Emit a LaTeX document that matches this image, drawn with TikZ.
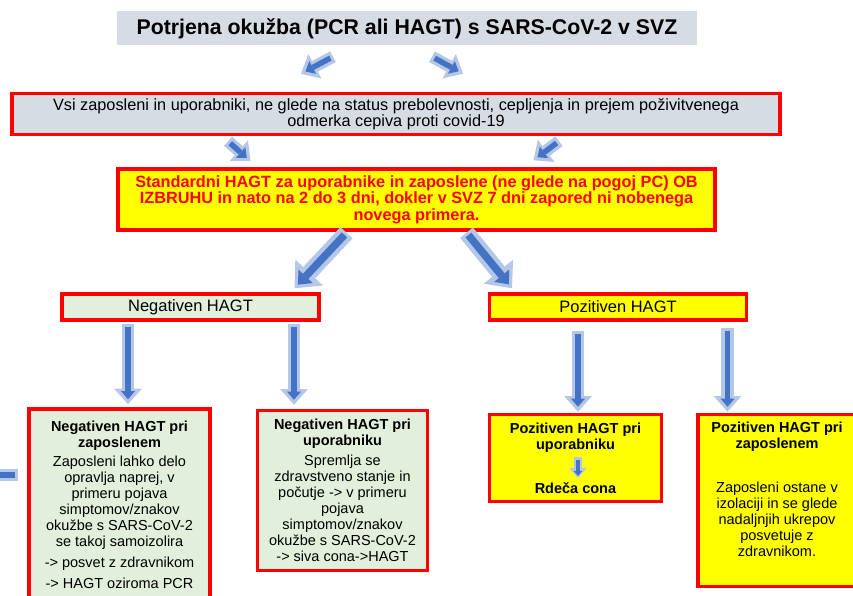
\documentclass[tikz,border=0pt]{standalone}
\usepackage{fontspec}
\setmainfont{Liberation Sans}
\usetikzlibrary{positioning,calc,arrows.meta}
\definecolor{boxgray}{HTML}{D6DCE4}
\definecolor{boxgreen}{HTML}{E2EFDA}
\definecolor{boxred}{HTML}{FF0000}
\definecolor{boxyellow}{HTML}{FFFF00}
\definecolor{arrowlight}{HTML}{B4C7E7}
\definecolor{arrowdark}{HTML}{4472C4}

\begin{document}
\begin{tikzpicture}[x=1pt, y=-1pt,
  box/.style={draw=boxred, line width=3.5pt, align=center, inner sep=2pt, font=\fontsize{14.5}{16}\selectfont},
  graybox/.style={box, fill=boxgray},
  greenbox/.style={box, fill=boxgreen},
  yellowbox/.style={box, fill=boxyellow},
  flowarrow/.style={draw=arrowdark, line width=#1, shorten <=3pt, shorten >=5pt,
    -{Triangle[length=0pt 1.5, width=0pt 2.6, line width=0pt]},
    preaction={draw=arrowlight, line width=2.2*#1, shorten <=0pt, shorten >=0pt,
      -{Triangle[length=0pt 1.3, width=0pt 2.3, line width=0pt]}}}]
\useasboundingbox (0,0) rectangle (853,596);
\clip (0,0) rectangle (853,596);

\node[fill=boxgray, minimum width=580pt, minimum height=34pt, font=\bfseries\fontsize{21.3}{24}\selectfont] (title) at (407,28.5) {Potrjena okužba (PCR ali HAGT) s SARS-CoV-2 v SVZ};
\node[graybox, minimum width=768pt, minimum height=41pt, font=\fontsize{16.3}{16}\selectfont] (allbox) at (396,114) {Vsi zaposleni in uporabniki, ne glede na status prebolevnosti, cepljenja in prejem poživitvenega\\odmerka cepiva proti covid-19};
\node[yellowbox, text=boxred, minimum width=597pt, minimum height=61pt, font=\bfseries\fontsize{16.3}{16.5}\selectfont] (hagt) at (416.5,199.5) {Standardni HAGT za uporabnike in zaposlene (ne glede na pogoj PC) OB\\IZBRUHU in nato na 2 do 3 dni, dokler v SVZ 7 dni zapored ni nobenega\\novega primera.};

\node[greenbox, minimum width=257pt, minimum height=26pt, font=\fontsize{16.5}{18}\selectfont] (neg) at (190.5,307) {Negativen HAGT};
\node[yellowbox, minimum width=257pt, minimum height=26pt, font=\fontsize{16.5}{18}\selectfont, right=167pt of neg] (poz) {Pozitiven HAGT};

\node[greenbox, minimum width=181pt, minimum height=192pt] (negzap) at (119.5,505) {\textbf{Negativen HAGT pri}\\\textbf{zaposlenem}\\[3pt]Zaposleni lahko delo\\opravlja naprej, v\\primeru pojava\\simptomov/znakov\\okužbe s SARS-CoV-2\\se takoj samoizolira\\[5pt]-> posvet z zdravnikom\\[5pt]-> HAGT oziroma PCR};
\node[greenbox, minimum width=170pt, minimum height=160pt] (negupo) at (342.5,490.5) {\textbf{Negativen HAGT pri}\\\textbf{uporabniku}\\[4pt]Spremlja se\\zdravstveno stanje in\\počutje -> v primeru\\pojava\\simptomov/znakov\\okužbe s SARS-CoV-2\\-> siva cona->HAGT};
\node[yellowbox, minimum width=172pt, minimum height=87pt] (pozupo) at (575.5,458) {\textbf{Pozitiven HAGT pri}\\\textbf{uporabniku}\\[28pt]\textbf{Rdeča cona}};
\node[yellowbox, minimum width=158pt, minimum height=172pt] (pozzap) at (777,500.5) {\textbf{Pozitiven HAGT pri}\\\textbf{zaposlenem}\\[28pt]Zaposleni ostane v\\izolaciji in se glede\\nadaljnjih ukrepov\\posvetuje z\\zdravnikom.\\[7pt]~};

\draw[flowarrow=5.5pt] ($(title.south)+(-74,11)$) -- ($(allbox.north)+(-95,-18)$);
\draw[flowarrow=5.5pt] ($(title.south)+(25,11)$) -- ($(allbox.north)+(67,-18)$);
\draw[flowarrow=5.5pt] ($(allbox.south)+(-168,5)$) -- ($(hagt.north)+(-166,-6)$);
\draw[flowarrow=5.5pt] ($(allbox.south)+(163,5)$) -- ($(hagt.north)+(117,-7)$);
\draw[flowarrow=7.5pt] ($(hagt.south)+(-70,1)$) -- ($(neg.north)+(104,-4)$);
\draw[flowarrow=7.5pt] ($(hagt.south)+(50,1)$) -- ($(poz.north)+(-106,-4)$);
\draw[flowarrow=5.5pt] ($(neg.south)+(-62.5,2)$) -- ($(negzap.north)+(8.5,-3)$);
\draw[flowarrow=5.5pt] ($(neg.south)+(103.5,2)$) -- ($(negupo.north)+(-48.5,-4)$);
\draw[flowarrow=5.5pt] ($(poz.south)+(-40,9)$) -- ($(pozupo.north)+(2.5,-1)$);
\draw[flowarrow=5.5pt] ($(poz.south)+(109.5,6)$) -- ($(pozzap.north)+(-49.5,-1)$);
\draw[flowarrow=3.5pt, shorten >=2pt] ($(pozupo.center)+(2.5,-1)$) -- ($(pozupo.center)+(2.5,20)$);
\draw[flowarrow=5.5pt] ($(negzap.west)+(-9,-30)$) -- ($(negzap.west)+(-80,-30)$);
\end{tikzpicture}
\end{document}
